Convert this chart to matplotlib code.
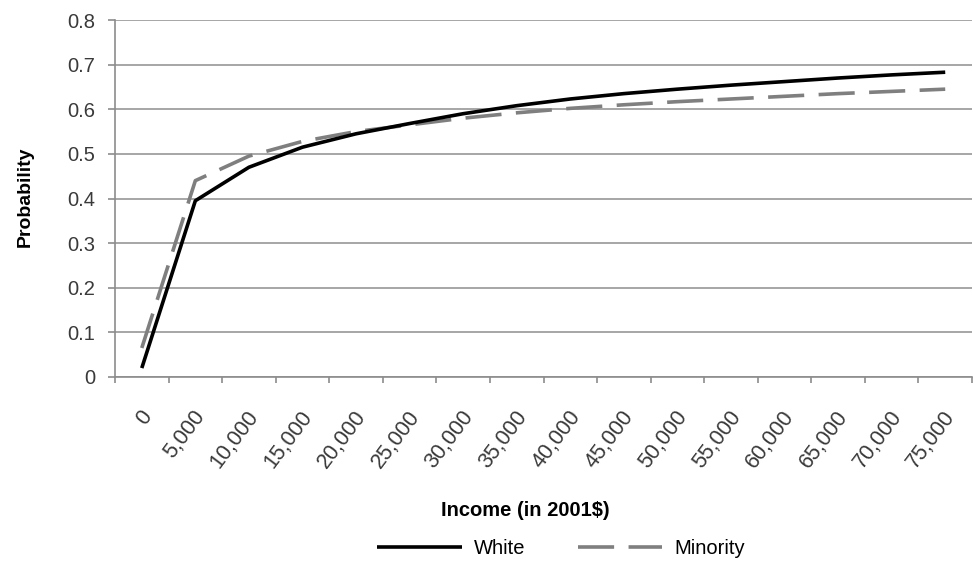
import numpy as np
import matplotlib
matplotlib.use('Agg')
import matplotlib.pyplot as plt
import matplotlib.transforms as mtransforms

plt.rcParams['font.family'] = ['Liberation Sans', 'DejaVu Sans']

# predicted probability by income
incomes = ['0', '5,000', '10,000', '15,000', '20,000', '25,000', '30,000', '35,000',
           '40,000', '45,000', '50,000', '55,000', '60,000', '65,000', '70,000', '75,000']
white = [0.02, 0.395, 0.47, 0.515, 0.545, 0.568, 0.59, 0.608,
         0.623, 0.635, 0.645, 0.654, 0.662, 0.670, 0.677, 0.683]
minority = [0.065, 0.44, 0.495, 0.528, 0.55, 0.565, 0.58, 0.592,
            0.602, 0.61, 0.617, 0.623, 0.629, 0.635, 0.64, 0.645]
yticks = [0, 0.1, 0.2, 0.3, 0.4, 0.5, 0.6, 0.7, 0.8]
ylabels = ['0', '0.1', '0.2', '0.3', '0.4', '0.5', '0.6', '0.7', '0.8']

fig = plt.figure(figsize=(9.73, 5.7), dpi=100)
ax = fig.add_axes([115 / 973, 1 - 377 / 570, (972 - 115) / 973, (377 - 20) / 570])

index = np.arange(len(incomes))
ax.plot(index, white, color='black', lw=2.6, label='White', solid_capstyle='butt', zorder=3)
ax.plot(index, minority, color='#7f7f7f', lw=2.6, dashes=(10, 4), label='Minority', zorder=2)

ax.set_xlim(-0.5, len(incomes) - 0.5)
ax.set_ylim(0, 0.8)
ax.set_yticks(yticks)
ax.set_yticklabels(ylabels)
ax.yaxis.grid(True, color='#a6a6a6', lw=1.4)
ax.set_axisbelow(True)

# category labels at centres, tick marks between categories
ax.set_xticks(index)
ax.set_xticklabels(incomes)
ax.set_xticks(np.arange(-0.5, len(incomes)), minor=True)
ax.tick_params(axis='x', which='major', length=0, pad=26, labelsize=15.5, labelcolor='#3a3a3a')
ax.tick_params(axis='x', which='minor', length=4.5, color='#8c8c8c', width=1.2, direction='out')
ax.tick_params(axis='y', length=5, color='#8c8c8c', width=1.2, pad=9,
               labelsize=14.5, labelcolor='#3a3a3a')
offset = mtransforms.ScaledTranslation(6 / 100, 0, fig.dpi_scale_trans)
for lab in ax.get_xticklabels():
    lab.set_rotation(53)
    lab.set_rotation_mode('anchor')
    lab.set_ha('right')
    lab.set_va('center')
    lab.set_transform(lab.get_transform() + offset)

for side in ['top', 'right']:
    ax.spines[side].set_visible(False)
for side in ['left', 'bottom']:
    ax.spines[side].set_color('#8c8c8c')
    ax.spines[side].set_linewidth(1.2)

fig.text(25 / 973, 1 - 197 / 570, 'Probability', rotation=90, ha='center', va='center',
         fontsize=14, fontweight='bold')
fig.text(525 / 973, 1 - 510 / 570, 'Income (in 2001$)', ha='center', va='center',
         fontsize=14.5, fontweight='bold')

fig.legend(loc='center', bbox_to_anchor=(561 / 973, 1 - 549 / 570), ncol=2, frameon=False,
           fontsize=14.5, handlelength=4.2, handletextpad=0.6, columnspacing=2.6)

fig.savefig('out.png', dpi=100)
